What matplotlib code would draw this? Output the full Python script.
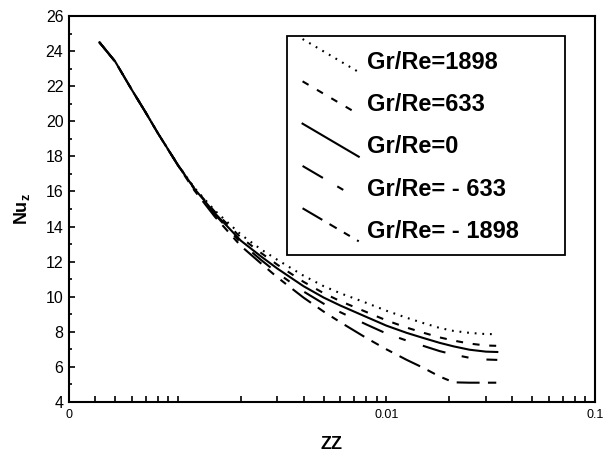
import matplotlib
matplotlib.use("Agg")
import matplotlib.pyplot as plt
from matplotlib.legend_handler import HandlerLine2D
from matplotlib.lines import Line2D
from matplotlib.ticker import FixedLocator, NullFormatter

plt.rcParams['font.family'] = ['Liberation Sans', 'DejaVu Sans']
plt.rcParams['mathtext.fontset'] = 'custom'
plt.rcParams['mathtext.bf'] = 'Liberation Sans:bold'
plt.rcParams['lines.scale_dashes'] = False

# axial position (log scale) shared by all curves
zz = [4.2e-4, 5e-4, 6e-4, 7e-4, 8e-4, 1e-3, 1.2e-3, 1.5e-3, 2e-3, 2.5e-3, 3e-3,
      4e-3, 5e-3, 6e-3, 8e-3, 0.01, 0.0125, 0.015, 0.018, 0.021, 0.025, 0.03, 0.034]

# local Nusselt number for each Gr/Re
nu_1898 = [24.5, 23.4, 21.8, 20.5, 19.33, 17.5, 16.2, 14.92, 13.55, 12.7, 12.1,
           11.2, 10.6, 10.2, 9.65, 9.2, 8.8, 8.5, 8.22, 8.05, 7.94, 7.87, 7.87]
nu_633 = [24.5, 23.4, 21.8, 20.5, 19.33, 17.5, 16.17, 14.85, 13.38, 12.5, 11.82,
          10.85, 10.2, 9.75, 9.13, 8.65, 8.24, 7.95, 7.68, 7.5, 7.33, 7.22, 7.2]
nu_0 = [24.5, 23.4, 21.8, 20.5, 19.33, 17.5, 16.15, 14.77, 13.2, 12.3, 11.6,
        10.6, 9.95, 9.5, 8.85, 8.35, 7.94, 7.65, 7.37, 7.17, 6.98, 6.87, 6.85]
nu_m633 = [24.5, 23.4, 21.8, 20.5, 19.33, 17.5, 16.12, 14.7, 13.08, 12.1, 11.35,
           10.3, 9.6, 9.12, 8.42, 7.9, 7.5, 7.2, 6.9, 6.7, 6.52, 6.42, 6.4]
nu_m1898 = [24.5, 23.4, 21.8, 20.5, 19.33, 17.48, 16.05, 14.57, 12.9, 11.9, 11.1,
            9.95, 9.15, 8.55, 7.65, 7.0, 6.4, 5.95, 5.45, 5.12, 5.1, 5.1, 5.1]

labels = ['Gr/Re=1898', 'Gr/Re=633', 'Gr/Re=0', 'Gr/Re= - 633', 'Gr/Re= - 1898']


class DiagonalHandler(HandlerLine2D):
    # tecplot style legend sample: a slanted line
    def create_artists(self, legend, orig_handle, xdescent, ydescent,
                       width, height, fontsize, trans):
        mid = height * 0.675 + 0.5 - ydescent
        half = 0.7 * fontsize
        line = Line2D([-xdescent + 0.17 * fontsize, -xdescent + width],
                      [mid + half, mid - half])
        self.update_prop(line, orig_handle, legend)
        line.set_transform(trans)
        return [line]


fig = plt.figure(figsize=(6.03, 4.55), dpi=100)
ax = fig.add_axes([0.1144, 0.1165, 0.8723, 0.8483])

lw = 1.5
ax.plot(zz, nu_1898, color='black', lw=lw, dashes=(1.3, 4.2), label=labels[0])
ax.plot(zz, nu_633, color='black', lw=lw, dashes=(5, 7), label=labels[1])
ax.plot(zz, nu_0, color='black', lw=lw, label=labels[2])
ax.plot(zz, nu_m633, color='black', lw=lw, dashes=(17, 12, 5, 13), label=labels[3])
ax.plot(zz, nu_m1898, color='black', lw=lw, dashes=(16.5, 6, 6, 6, 5, 6), label=labels[4])

ax.set_xscale('log')
ax.set_xlim(3e-4, 0.1)
ax.set_ylim(4, 26)

ax.xaxis.set_major_locator(FixedLocator([3e-4, 0.01, 0.1]))
ax.set_xticklabels(['0', '0.01', '0.1'])
minor_x = [k * 1e-4 for k in range(4, 10)] + [k * 1e-3 for k in range(1, 10)] + [k * 1e-2 for k in range(2, 10)]
ax.xaxis.set_minor_locator(FixedLocator(minor_x))
ax.xaxis.set_minor_formatter(NullFormatter())
ax.set_yticks(range(4, 27, 2))
ax.yaxis.set_minor_locator(FixedLocator(range(5, 26, 2)))

ax.tick_params(axis='x', which='both', direction='in', length=4.3, width=1.2,
               labelsize=9, pad=5, top=False)
ax.tick_params(axis='y', which='major', direction='in', length=4.3, width=1.2,
               labelsize=11.5, pad=4, right=False)
ax.tick_params(axis='y', which='minor', direction='in', length=1.8, width=1.2, right=False)
for s in ax.spines.values():
    s.set_linewidth(1.5)

ax.set_xlabel('ZZ', fontsize=13, fontweight='bold', labelpad=11)
ax.set_ylabel(r'Nu$_{\mathbf{z}}$', fontsize=13, fontweight='bold', labelpad=10)

leg = ax.legend(loc='upper left', bbox_to_anchor=(0.414, 0.386, 0.529, 0.562),
                mode='expand', borderaxespad=0, fancybox=False, framealpha=1,
                edgecolor='black', prop={'weight': 'bold', 'size': 17},
                handlelength=2.55, handleheight=1.3, labelspacing=0.7,
                handletextpad=0.35, borderpad=0.5,
                handler_map={Line2D: DiagonalHandler()})
leg.get_frame().set_linewidth(1.3)

fig.savefig('out.png', dpi=100)
